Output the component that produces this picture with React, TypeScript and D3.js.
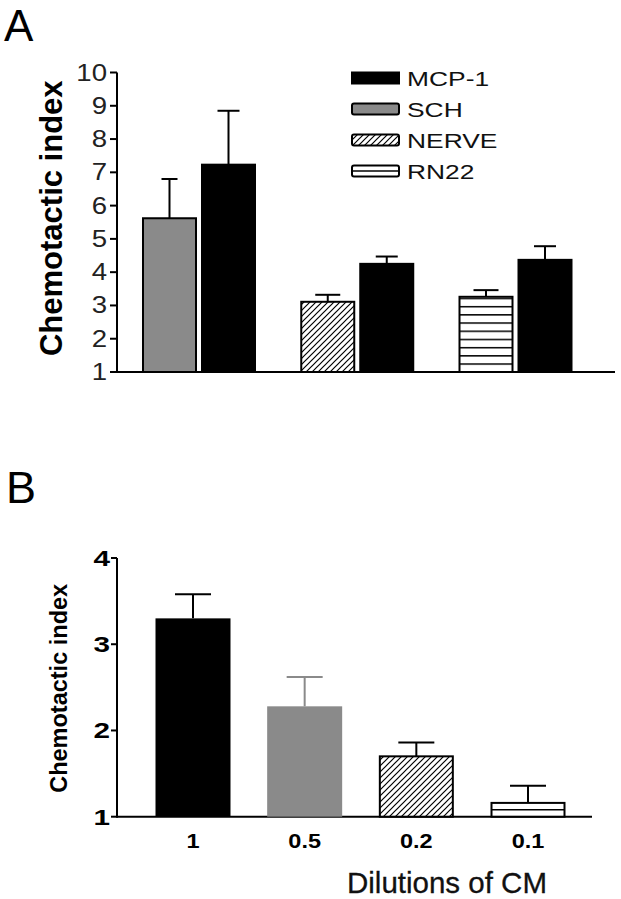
import React from "react";
import * as d3 from "d3";

// Panel A data
const groupsA = ["SCH", "NERVE", "RN22"];
const sampleMeans = [5.62, 3.11, 3.26];
const sampleSem = [1.18, 0.21, 0.2];
const mcpMeans = [7.23, 4.25, 4.37];
const mcpSem = [1.62, 0.22, 0.41];
const ticksA = [1, 2, 3, 4, 5, 6, 7, 8, 9, 10];
const legendLabels = ["MCP-1", "SCH", "NERVE", "RN22"];

// Panel B data
const dilutions = ["1", "0.5", "0.2", "0.1"];
const meansB = [3.3, 2.28, 1.7, 1.16];
const semB = [0.28, 0.34, 0.16, 0.2];
const ticksB = [1, 2, 3, 4];

const FONT = "Liberation Sans, Arial, sans-serif";

const fillFor = (name: string) =>
  name === "MCP-1" ? "#000" : name === "SCH" ? "#8a8a8a" : name === "NERVE" ? "url(#hatch)" : "url(#hlines)";

export default function App() {
  const yA = d3.scaleLinear().domain([1, 10]).range([372, 72.5]);
  const xA = d3.scalePoint<string>().domain(groupsA).range([199, 515.5]);
  const bwA = 53;
  const gapA = 3;

  const yB = d3.scaleLinear().domain([1, 4]).range([816.7, 558]);
  const xB = d3.scalePoint<string>().domain(dilutions).range([193, 528]);
  const bwB = 75;

  const axisLeftA = 117;
  const axisLeftB = 117;

  const errBar = (cx: number, top: number, errTop: number, cap: number, color = "#000", key?: string) => (
    <g key={key} stroke={color} strokeWidth={2}>
      <line x1={cx} x2={cx} y1={top} y2={errTop} />
      <line x1={cx - cap / 2} x2={cx + cap / 2} y1={errTop} y2={errTop} />
    </g>
  );

  return (
    <svg width={621} height={899} style={{ position: "absolute", left: 0, top: 0, background: "#fff" }} fontFamily={FONT}>
      <defs>
        <pattern id="hatch" patternUnits="userSpaceOnUse" width={6} height={6}>
          <rect width={6} height={6} fill="#fff" />
          <path d="M-1,1 l2,-2 M0,6 l6,-6 M5,7 l2,-2" stroke="#000" strokeWidth={1.2} />
        </pattern>
        <pattern id="hlines" patternUnits="userSpaceOnUse" width={10} height={8.2} y={372 % 8.2 - 0.5}>
          <rect width={10} height={8.2} fill="#fff" />
          <line x1={0} x2={10} y1={0.6} y2={0.6} stroke="#000" strokeWidth={1.8} />
        </pattern>
      </defs>

      {/* Panel A */}
      <text x={4} y={41} fontSize={44} fill="#000">A</text>
      <text
        transform={`translate(62,${(72.5 + 372) / 2 - 4}) rotate(-90)`}
        textAnchor="middle"
        fontSize={31}
        fontWeight="bold"
      >
        Chemotactic index
      </text>
      <line x1={axisLeftA} x2={axisLeftA} y1={yA(10)} y2={yA(1) + 1} stroke="#000" strokeWidth={2} />
      <line x1={axisLeftA} x2={615} y1={yA(1)} y2={yA(1)} stroke="#000" strokeWidth={2} />
      {ticksA.map((t) => (
        <g key={t}>
          <line x1={axisLeftA - 7} x2={axisLeftA} y1={yA(t)} y2={yA(t)} stroke="#000" strokeWidth={2} />
          <text
            transform={`translate(107,${yA(t) + 8}) scale(1.2,1)`}
            textAnchor="end"
            fontSize={23}
            fill="#222"
          >
            {t}
          </text>
        </g>
      ))}
      {groupsA.map((g, i) => {
        const c = xA(g)!;
        const xl = c - gapA - bwA;
        const xr = c + gapA;
        return (
          <g key={g}>
            {errBar(xl + bwA / 2, yA(sampleMeans[i]), yA(sampleMeans[i] + sampleSem[i]), i === 0 ? 16 : 25)}
            {errBar(xr + bwA / 2, yA(mcpMeans[i]), yA(mcpMeans[i] + mcpSem[i]), 22)}
            <rect
              x={xl}
              y={yA(sampleMeans[i])}
              width={bwA}
              height={yA(1) - yA(sampleMeans[i])}
              fill={fillFor(g)}
              stroke="#000"
              strokeWidth={2}
            />
            <rect
              x={xr}
              y={yA(mcpMeans[i])}
              width={bwA}
              height={yA(1) - yA(mcpMeans[i])}
              fill="#000"
              stroke="#000"
              strokeWidth={2}
            />
          </g>
        );
      })}
      {/* Legend */}
      {legendLabels.map((l, i) => {
        const cy = 78 + i * 31;
        return (
          <g key={l}>
            {l === "MCP-1" ? (
              <rect x={351} y={cy - 6.5} width={49} height={13} fill="#000" />
            ) : (
              <rect x={352} y={cy - 5.5} width={47} height={11} rx={2} fill={l === "RN22" ? "#fff" : fillFor(l)} stroke="#000" strokeWidth={2} />
            )}
            {l === "RN22" && <line x1={352} x2={399} y1={cy} y2={cy} stroke="#000" strokeWidth={1.5} />}
            <text transform={`translate(407,${cy + 7.5}) scale(1.32,1)`} fontSize={20} fill="#111">
              {l}
            </text>
          </g>
        );
      })}

      {/* Panel B */}
      <text x={6} y={503} fontSize={45} fill="#000">B</text>
      <text
        transform={`translate(67,${(558 + 816.7) / 2 + 1}) rotate(-90)`}
        textAnchor="middle"
        fontSize={23.5}
        fontWeight="bold"
      >
        Chemotactic index
      </text>
      <line x1={axisLeftB} x2={axisLeftB} y1={yB(4)} y2={yB(1) + 1} stroke="#000" strokeWidth={2} />
      <line x1={axisLeftB} x2={592} y1={yB(1)} y2={yB(1)} stroke="#000" strokeWidth={2} />
      {ticksB.map((t) => (
        <g key={t}>
          <line x1={axisLeftB - 6} x2={axisLeftB} y1={yB(t)} y2={yB(t)} stroke="#000" strokeWidth={2} />
          <text
            transform={`translate(110,${yB(t) + 8}) scale(1.35,1)`}
            textAnchor="end"
            fontSize={22}
            fontWeight="bold"
          >
            {t}
          </text>
        </g>
      ))}
      {dilutions.map((d, i) => {
        const c = xB(d)!;
        const x0 = c - bwB / 2;
        const top = yB(meansB[i]);
        const h = yB(1) - top;
        const color = i === 1 ? "#8a8a8a" : "#000";
        return (
          <g key={d}>
            {errBar(c, top, yB(meansB[i] + semB[i]), 36, color)}
            {i === 0 && <rect x={x0} y={top} width={bwB} height={h} fill="#000" />}
            {i === 1 && <rect x={x0} y={top} width={bwB} height={h} fill="#8a8a8a" />}
            {i === 2 && <rect x={x0 + 1} y={top} width={bwB - 2} height={h} fill="url(#hatch)" stroke="#000" strokeWidth={2} />}
            {i === 3 && (
              <g>
                <rect x={x0 + 1} y={top} width={bwB - 2} height={h} fill="#fff" stroke="#000" strokeWidth={2} />
                <line x1={x0 + 1} x2={x0 + bwB - 1} y1={(top + yB(1)) / 2} y2={(top + yB(1)) / 2} stroke="#000" strokeWidth={1.5} />
              </g>
            )}
            <text
              transform={`translate(${c},848) scale(1.12,1)`}
              textAnchor="middle"
              fontSize={21}
              fontWeight="bold"
            >
              {d}
            </text>
          </g>
        );
      })}
      <text x={447} y={893} textAnchor="middle" fontSize={29.5} fill="#111" stroke="#111" strokeWidth={0.3}>
        Dilutions of CM
      </text>
    </svg>
  );
}
